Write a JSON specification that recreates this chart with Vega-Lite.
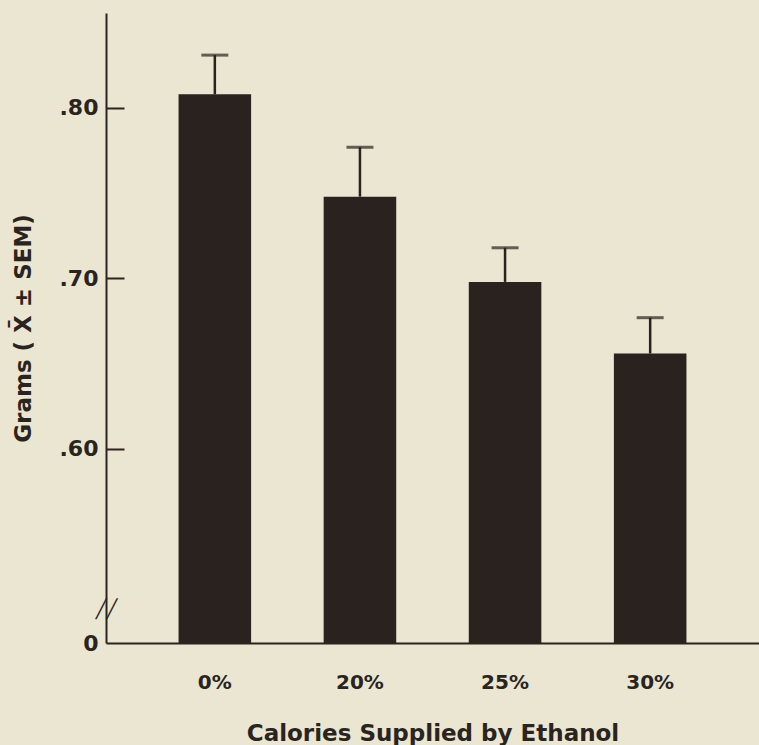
{
  "$schema": "https://vega.github.io/schema/vega-lite/v6.json",
  "width": 653,
  "height": 630,
  "autosize": "none",
  "padding": {"left": 106, "top": 13, "right": 0, "bottom": 102},
  "background": "#ebe6d2",
  "config": {
    "view": {"stroke": null},
    "font": "DejaVu Sans"
  },
  "data": {
    "values": [
      {"calories": "0%", "grams": 0.808, "upper": 0.831},
      {"calories": "20%", "grams": 0.748, "upper": 0.777},
      {"calories": "25%", "grams": 0.698, "upper": 0.718},
      {"calories": "30%", "grams": 0.656, "upper": 0.677}
    ]
  },
  "encoding": {
    "x": {
      "field": "calories",
      "type": "nominal",
      "sort": ["0%", "20%", "25%", "30%"],
      "scale": {"paddingInner": 0.5, "paddingOuter": 0.5},
      "axis": {
        "title": "Calories Supplied by Ethanol",
        "titleFont": "DejaVu Sans",
        "titleFontSize": 23,
        "titleFontWeight": "bold",
        "titleColor": "#2a2420",
        "titlePadding": 30,
        "labelAngle": 0,
        "labelFont": "DejaVu Sans",
        "labelFontSize": 20,
        "labelFontWeight": "bold",
        "labelColor": "#2a2420",
        "labelPadding": 29,
        "ticks": false,
        "domainColor": "#2a2420",
        "domainWidth": 2
      }
    }
  },
  "layer": [
    {
      "mark": {"type": "bar", "color": "#2a221e"},
      "encoding": {
        "y": {
          "field": "grams",
          "type": "quantitative",
          "scale": {"domain": [0.4862, 0.8557], "zero": false, "nice": false},
          "axis": {
            "title": "Grams ( X\u0304 ± SEM)",
            "titleFont": "DejaVu Sans",
            "titleFontSize": 23,
            "titleFontWeight": "bold",
            "titleColor": "#2a2420",
            "titlePadding": 24,
            "values": [0.4862, 0.5056, 0.6, 0.7, 0.8],
            "labelExpr": "datum.value < 0.49 ? '0' : datum.value < 0.55 ? '╱╱' : replace(format(datum.value, '.2f'), '0.', '.')",
            "labelFont": "DejaVu Sans",
            "labelFontSize": {"condition": {"test": "datum.value > 0.49 && datum.value < 0.55", "value": 18}, "value": 22},
            "labelFontWeight": "bold",
            "labelAlign": {"condition": {"test": "datum.value > 0.49 && datum.value < 0.55", "value": "center"}, "value": "right"},
            "labelPadding": {"condition": {"test": "datum.value > 0.49 && datum.value < 0.55", "value": 18}, "value": 26},
            "labelColor": "#2a2420",
            "labelFlush": false,
            "labelOverlap": false,
            "labelBaseline": "middle",
            "tickSize": -18,
            "tickWidth": 2,
            "tickColor": "#2a2420",
            "tickOpacity": {"condition": {"test": "datum.value < 0.55", "value": 0}, "value": 1},
            "domainColor": "#2a2420",
            "domainWidth": 2,
            "grid": false
          }
        },
        "y2": {"datum": 0.4862}
      }
    },
    {
      "mark": {"type": "rule", "color": "#2a221e", "strokeWidth": 2.5},
      "encoding": {
        "y": {"field": "grams", "type": "quantitative"},
        "y2": {"field": "upper"}
      }
    },
    {
      "mark": {"type": "tick", "color": "#2a221e", "size": 27, "thickness": 3, "orient": "horizontal"},
      "encoding": {
        "y": {"field": "upper", "type": "quantitative"}
      }
    }
  ]
}
